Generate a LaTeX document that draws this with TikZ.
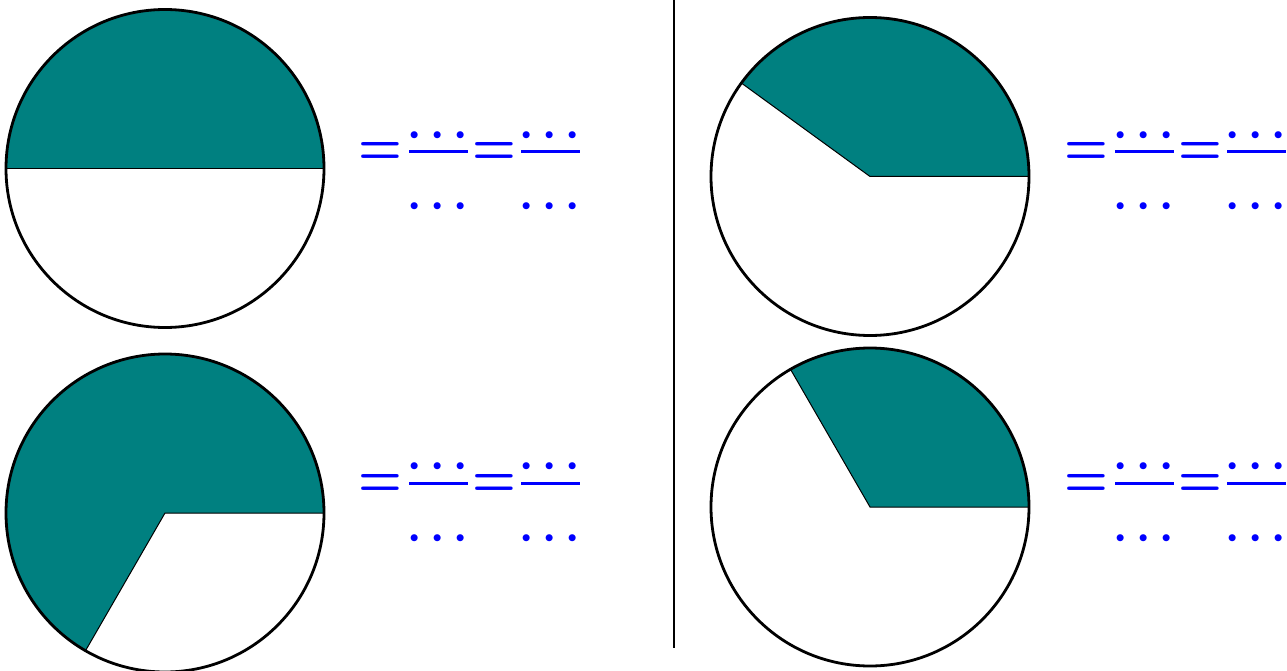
\documentclass[tikz,border=0pt]{standalone}
\definecolor{pieteal}{RGB}{0,128,128}
\definecolor{eqblue}{RGB}{0,0,255}
\begin{document}
\begin{tikzpicture}[x=1pt,y=-1pt,
  rim/.style={draw=black,line width=2.8pt},
  eqsign/.style={text=eqblue,inner sep=0pt,anchor=base,font=\boldmath,xscale=4.9,yscale=5.6},
  dotrow/.style={text=eqblue,inner sep=0pt,anchor=base,font=\boldmath,scale=4.5},
  fracbar/.style={draw=eqblue,line width=3pt}]
\useasboundingbox (0,0) rectangle (1287,671);
% divider
\coordinate (vtop) at (674,0);
\coordinate (vbot) at (674,648);
\draw[line width=2pt] (vtop) -- (vbot);
% pies
\newcommand{\pie}[3]{%
  \coordinate (#1) at #2;
  \fill[pieteal] (#1) -- ++(159,0) arc[start angle=0,end angle=-#3,radius=159] -- cycle;
  \draw[line width=1pt] (#1) ++(159,0) -- (#1) -- ++(-#3:159);
  \draw[rim] (#1) circle[radius=159];
}
\pie{c1}{(165,168.5)}{180}
\pie{c2}{(165,513)}{240}
\pie{c3}{(870,176.5)}{144}
\pie{c4}{(870,507)}{120}
% equations
\newcommand{\eqrow}[3]{%
  \node[eqsign] (#1a) at (#2+215,#3+14) {$=$};
  \coordinate (#1b1) at (#2+244,#3+1);
  \coordinate (#1b2) at (#2+303,#3+1);
  \draw[fracbar] (#1b1) -- (#1b2);
  \node[dotrow] (#1n1) at (#2+273,#3-4.5) {$\cdots$};
  \node[dotrow] (#1d1) at (#2+273,#3+67) {$\cdots$};
  \node[eqsign] (#1c) at (#2+329,#3+14) {$=$};
  \coordinate (#1b3) at (#2+356,#3+1);
  \coordinate (#1b4) at (#2+415,#3+1);
  \draw[fracbar] (#1b3) -- (#1b4);
  \node[dotrow] (#1n2) at (#2+385,#3-4.5) {$\cdots$};
  \node[dotrow] (#1d2) at (#2+385,#3+67) {$\cdots$};
}
\eqrow{e1}{165}{151}
\eqrow{e2}{165}{482}
\eqrow{e3}{871}{151}
\eqrow{e4}{871}{482}
\end{tikzpicture}
\end{document}
